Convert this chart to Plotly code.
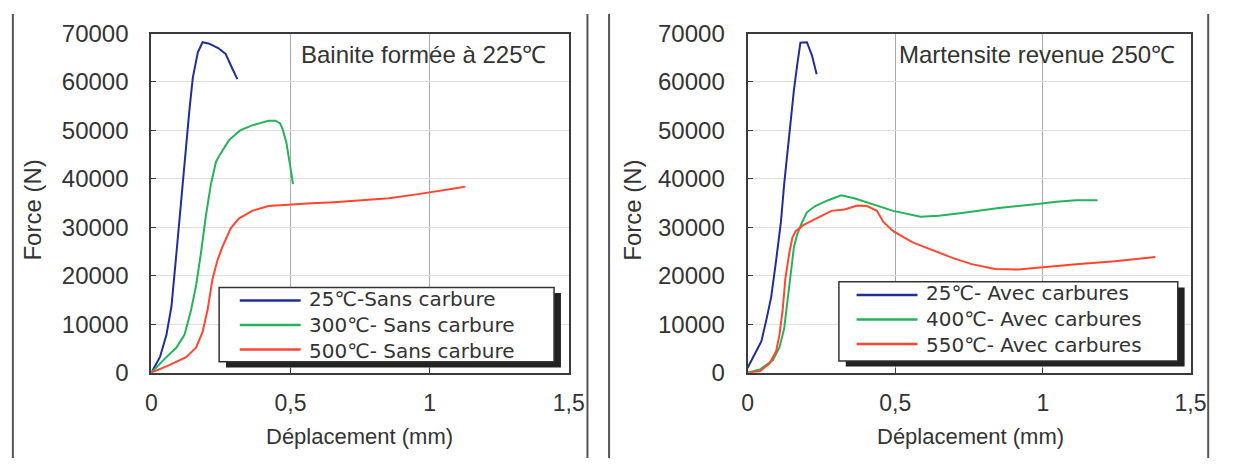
import plotly.graph_objects as go

W, H = 1235, 471

# ---------------- data ----------------
# Left panel: Bainite formée à 225 °C
bain_labels = ["25℃-Sans carbure", "300℃- Sans carbure", "500℃- Sans carbure"]
bain25_x = [0, 0.031, 0.054, 0.072, 0.090, 0.108, 0.119, 0.137, 0.149, 0.167, 0.184, 0.208, 0.240, 0.267, 0.285, 0.309]
bain25_y = [0, 3250, 7780, 13600, 24600, 36300, 44100, 54400, 60900, 66100, 68200, 67900, 67000, 65800, 63500, 60600]
bain300_x = [0, 0.043, 0.090, 0.119, 0.143, 0.161, 0.178, 0.196, 0.214, 0.232, 0.246, 0.279, 0.319, 0.36, 0.39, 0.421, 0.446, 0.462, 0.472, 0.485, 0.498, 0.509]
bain300_y = [0, 2600, 5200, 7800, 13000, 18100, 24600, 32400, 38900, 43500, 45000, 48000, 50000, 51000, 51500, 52000, 52000, 51500, 50200, 47500, 43000, 38900]
bain500_x = [0, 0.066, 0.125, 0.161, 0.184, 0.202, 0.220, 0.238, 0.255, 0.285, 0.314, 0.362, 0.421, 0.492, 0.56, 0.656, 0.755, 0.854, 0.953, 1.05, 1.10, 1.128]
bain500_y = [0, 1600, 3200, 5200, 8400, 13000, 19400, 23300, 25900, 29800, 31800, 33400, 34400, 34700, 34900, 35200, 35600, 36000, 36800, 37600, 38100, 38400]

# Right panel: Martensite revenue 250 °C
mart_labels = ["25℃- Avec carbures", "400℃- Avec carbures", "550℃- Avec carbures"]
mart25_x = [0, 0.020, 0.047, 0.064, 0.080, 0.097, 0.113, 0.124, 0.135, 0.146, 0.157, 0.168, 0.179, 0.201, 0.218, 0.234]
mart25_y = [970, 3250, 6500, 11000, 15600, 23300, 31100, 38900, 45400, 53100, 58300, 63500, 68100, 68200, 65500, 61600]
mart400_x = [0, 0.042, 0.086, 0.108, 0.124, 0.135, 0.146, 0.157, 0.168, 0.185, 0.201, 0.229, 0.273, 0.317, 0.361, 0.427, 0.493, 0.586, 0.647, 0.719, 0.851, 0.982, 1.046, 1.112, 1.185]
mart400_y = [0, 650, 2600, 5200, 9100, 14900, 20700, 25900, 28500, 31100, 33100, 34400, 35600, 36600, 36000, 34700, 33400, 32200, 32400, 32900, 34000, 34800, 35300, 35600, 35600]
mart550_x = [0, 0.042, 0.075, 0.097, 0.108, 0.119, 0.128, 0.141, 0.152, 0.163, 0.190, 0.240, 0.284, 0.328, 0.372, 0.405, 0.438, 0.460, 0.493, 0.559, 0.628, 0.694, 0.759, 0.838, 0.916, 0.982, 1.113, 1.244, 1.381]
mart550_y = [0, 300, 1950, 4500, 7800, 13000, 19400, 24600, 27900, 29200, 30500, 32100, 33400, 33700, 34500, 34400, 33400, 31100, 29200, 26900, 25300, 23700, 22400, 21400, 21300, 21700, 22400, 23000, 23900]

x_tickvals = [0, 0.5, 1, 1.5]
x_ticktext = ["0", "0,5", "1", "1,5"]
y_tickvals = [0, 10000, 20000, 30000, 40000, 50000, 60000, 70000]
y_ticktext = ["0", "10000", "20000", "30000", "40000", "50000", "60000", "70000"]

x_title = "Déplacement (mm)"
y_title = "Force (N)"
titles = ["Bainite formée à 225℃", "Martensite revenue 250℃"]

colors = ["#1e2f9c", "#25b35a", "#ff4630"]

# ---------------- helpers ----------------
def px(x):
    return x / W

def py(y):
    return 1 - y / H

TEXT = "#333333"
FONT = "Liberation Sans, Arial, sans-serif"
LEG_FONT_SIZE = 20
LEG_LINE = LEG_FONT_SIZE * 1.3

fig = go.Figure()

series_left = [(bain25_x, bain25_y), (bain300_x, bain300_y), (bain500_x, bain500_y)]
series_right = [(mart25_x, mart25_y), (mart400_x, mart400_y), (mart550_x, mart550_y)]

for (sx, sy), c, name in zip(series_left, colors, bain_labels):
    fig.add_trace(go.Scatter(x=sx, y=sy, mode="lines", name=name, line=dict(color=c, width=2),
                             xaxis="x", yaxis="y", showlegend=False))
for (sx, sy), c, name in zip(series_right, colors, mart_labels):
    fig.add_trace(go.Scatter(x=sx, y=sy, mode="lines", name=name, line=dict(color=c, width=2),
                             xaxis="x2", yaxis="y2", showlegend=False))

ydom = [py(380.5), py(20.7)]
xdom_l = [px(148), px(573)]
xdom_r = [px(755), px(1206)]

xax = dict(range=[0, 1.5], tickvals=x_tickvals, ticktext=x_ticktext, showgrid=True,
           gridcolor="#a8a8a8", gridwidth=1, showline=True, linecolor="#3a3a3a", linewidth=2,
           mirror=True, ticks="inside", ticklen=5, tickcolor="#3a3a3a", zeroline=False,
           tickfont=dict(family=FONT, size=23, color=TEXT), ticklabelstandoff=9)
yax = dict(range=[0, 70000], tickvals=y_tickvals, ticktext=y_ticktext, showgrid=True,
           gridcolor="#dedede", gridwidth=1, showline=True, linecolor="#3a3a3a", linewidth=2,
           mirror=True, ticks="inside", ticklen=5, tickcolor="#3a3a3a", zeroline=False,
           tickfont=dict(family=FONT, size=24, color=TEXT), ticklabelstandoff=16)

fig.update_layout(
    width=W, height=H,
    margin=dict(l=0, r=0, t=0, b=0),
    paper_bgcolor="white", plot_bgcolor="white",
    xaxis=dict(domain=xdom_l, anchor="y", **xax),
    yaxis=dict(domain=ydom, anchor="x", **yax),
    xaxis2=dict(domain=xdom_r, anchor="y2", **xax),
    yaxis2=dict(domain=ydom, anchor="x2", **yax),
)

shapes = []
annots = []

# outer frame vertical lines
for xv in [7, 592, 614, 1224]:
    shapes.append(dict(type="line", xref="paper", yref="paper", x0=px(xv), x1=px(xv), y0=0, y1=1,
                       line=dict(color="#555555", width=2), layer="above"))

# axis titles and panel titles
for cx, lx in [(360, 27), (982, 637)]:
    annots.append(dict(x=px(cx), y=py(448), xref="paper", yref="paper", text=x_title, showarrow=False,
                       font=dict(family=FONT, size=22, color=TEXT), xanchor="center", yanchor="middle"))
    annots.append(dict(x=px(lx), y=py(208), xref="paper", yref="paper", text=y_title, showarrow=False,
                       textangle=-90, font=dict(family=FONT, size=24, color=TEXT), xanchor="center", yanchor="middle"))
annots.append(dict(x=px(551.7), y=py(43.3), xref="paper", yref="paper", text=titles[0], showarrow=False,
                   font=dict(family=FONT, size=24, color=TEXT), xanchor="right", yanchor="middle"))
annots.append(dict(x=px(1192), y=py(43.3), xref="paper", yref="paper", text=titles[1], showarrow=False,
                   font=dict(family=FONT, size=24, color=TEXT), xanchor="right", yanchor="middle"))

# manual legends (box with drop shadow), text as one multi-line block
legends = [
    dict(box=(217, 290, 558, 369), sample=(238, 300), text_x=306, center=330, labels=bain_labels),
    dict(box=(848, 284, 1193, 368), sample=(866, 928), text_x=935, center=324, labels=mart_labels),
]
for lg in legends:
    x0, y0, x1, y1 = lg["box"]
    shapes.append(dict(type="rect", xref="paper", yref="paper", x0=px(x0 + 7), x1=px(x1 + 7),
                       y0=py(y1 + 6), y1=py(y0 + 6), fillcolor="#222222", line=dict(width=0), layer="above"))
    shapes.append(dict(type="rect", xref="paper", yref="paper", x0=px(x0), x1=px(x1),
                       y0=py(y1), y1=py(y0), fillcolor="white", line=dict(color="#333333", width=1.5), layer="above"))
    rows = [lg["center"] - LEG_LINE, lg["center"], lg["center"] + LEG_LINE]
    for ry, c in zip(rows, colors):
        shapes.append(dict(type="line", xref="paper", yref="paper", x0=px(lg["sample"][0]), x1=px(lg["sample"][1]),
                           y0=py(ry), y1=py(ry), line=dict(color=c, width=2.5), layer="above"))
    annots.append(dict(x=px(lg["text_x"]), y=py(lg["center"]), xref="paper", yref="paper",
                       text="<br>".join(lg["labels"]), showarrow=False, align="left",
                       font=dict(family="DejaVu Sans, sans-serif", size=LEG_FONT_SIZE, color=TEXT),
                       xanchor="left", yanchor="middle"))

fig.update_layout(shapes=shapes, annotations=annots)
fig.write_html("out.html")
